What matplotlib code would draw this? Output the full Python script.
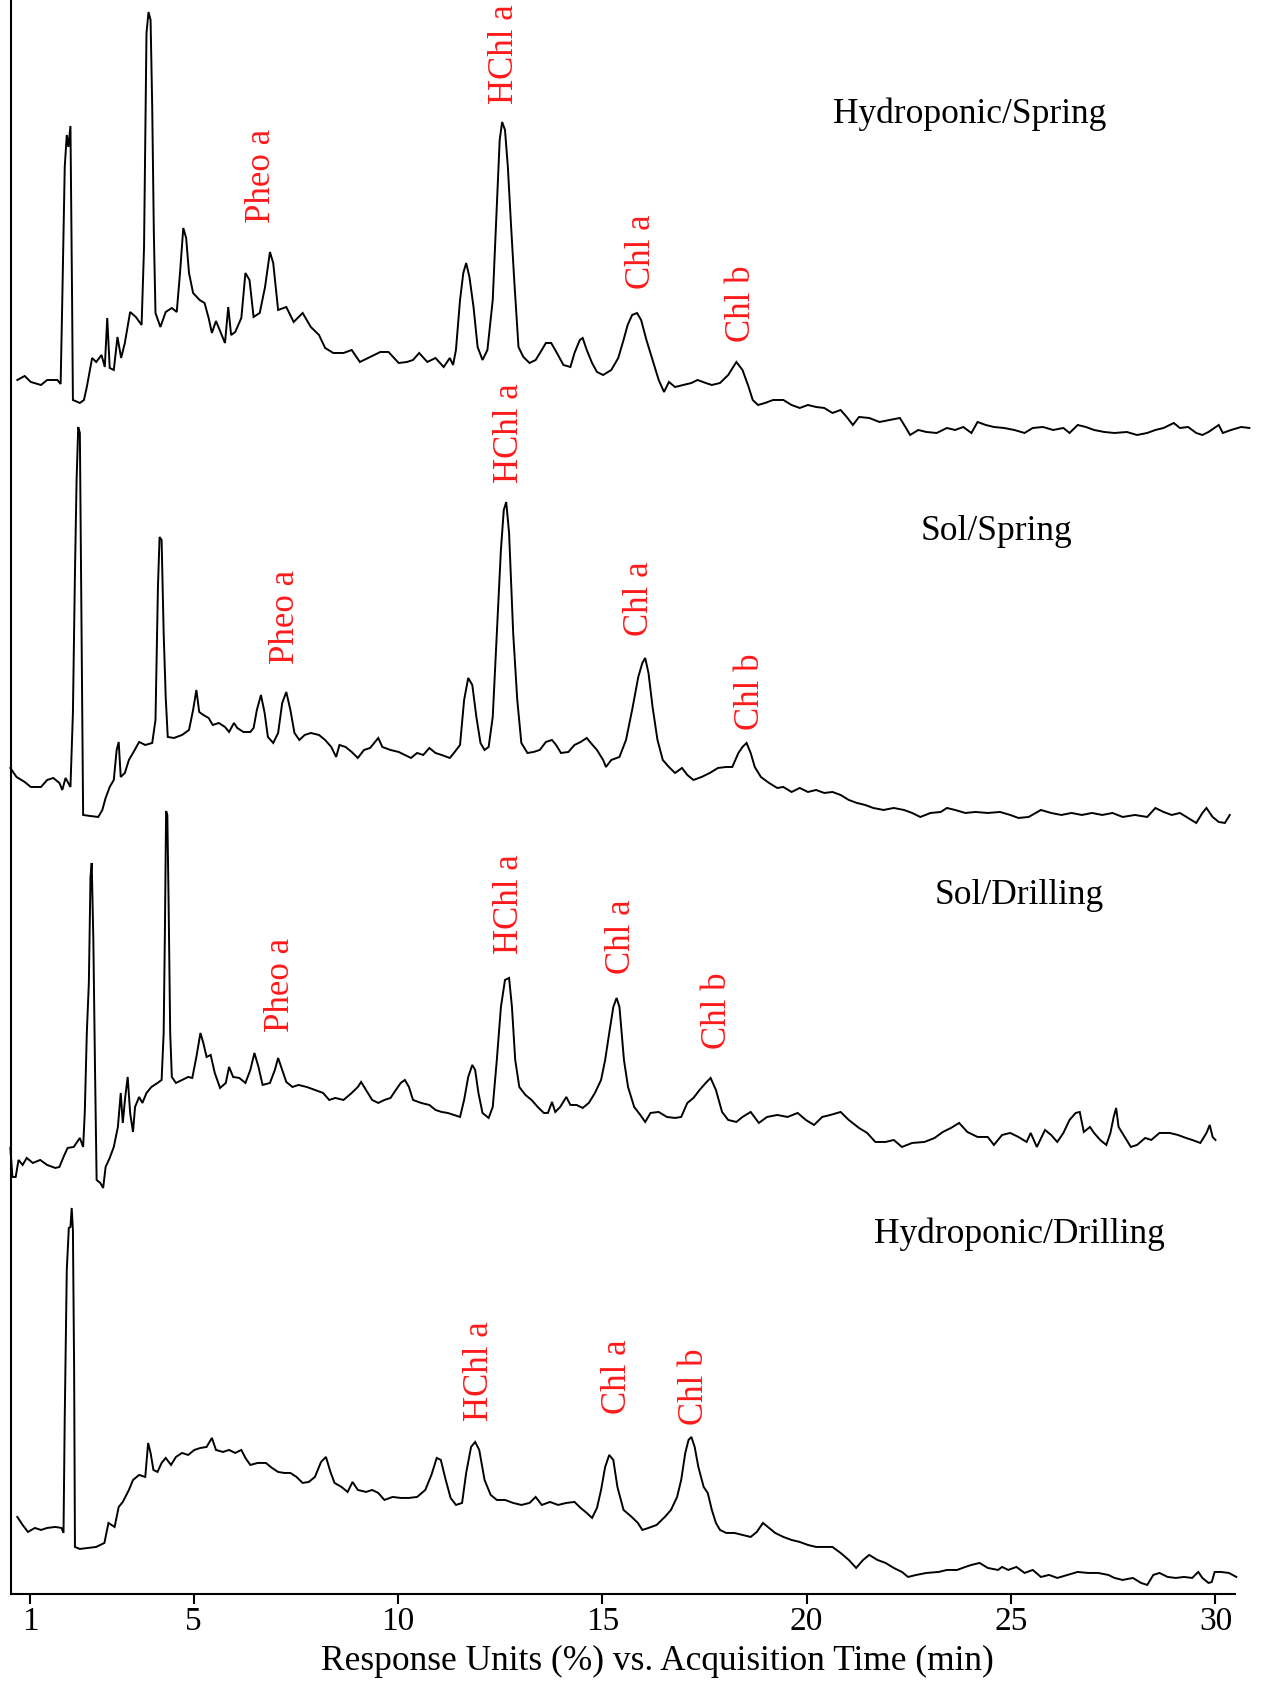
import matplotlib
matplotlib.use("Agg")
import matplotlib.pyplot as plt

# ---------------- data (time in min, stacked response units) ----------------
t_hs = [0.69, 0.87, 1.02, 1.27, 1.42, 1.67, 1.75, 1.79, 1.85, 1.90, 1.94, 1.99, 2.03, 2.05, 2.22, 2.32,
        2.39, 2.52, 2.62, 2.75, 2.83, 2.89, 2.95, 3.05, 3.14, 3.23, 3.32, 3.45, 3.59, 3.73, 3.79, 3.85,
        3.90, 3.95, 3.99, 4.03, 4.07, 4.19, 4.32, 4.47, 4.59, 4.67, 4.75, 4.82, 4.89, 4.99, 5.15, 5.27,
        5.37, 5.45, 5.55, 5.67, 5.77, 5.85, 5.92, 6.02, 6.17, 6.27, 6.37, 6.47, 6.62, 6.75, 6.87, 6.95,
        7.07, 7.27, 7.45, 7.67, 7.87, 8.07, 8.22, 8.42, 8.67, 8.87, 9.07, 9.32, 9.57, 9.77, 10.02, 10.22,
        10.37, 10.52, 10.72, 10.92, 11.12, 11.27, 11.35, 11.42, 11.52, 11.60, 11.67, 11.75, 11.85, 11.95,
        12.07, 12.19, 12.32, 12.42, 12.49, 12.55, 12.62, 12.69, 12.77, 12.85, 12.95, 13.07, 13.22, 13.37,
        13.52, 13.62, 13.75, 13.89, 14.05, 14.22, 14.32, 14.45, 14.52, 14.62, 14.75, 14.87, 15.02, 15.22,
        15.39, 15.52, 15.62, 15.73, 15.85, 15.95, 16.08, 16.23, 16.38, 16.51, 16.63, 16.78, 16.98, 17.18,
        17.33, 17.53, 17.68, 17.88, 18.08, 18.28, 18.43, 18.58, 18.68, 18.81, 18.98, 19.18, 19.43, 19.63,
        19.83, 20.03, 20.23, 20.43, 20.63, 20.83, 20.98, 21.13, 21.28, 21.53, 21.78, 22.03, 22.28, 22.43,
        22.53, 22.73, 22.93, 23.18, 23.43, 23.63, 23.83, 24.03, 24.18, 24.38, 24.58, 24.83, 25.08, 25.33,
        25.53, 25.78, 26.03, 26.28, 26.43, 26.63, 26.83, 27.03, 27.28, 27.53, 27.83, 28.08, 28.33, 28.53,
        28.73, 28.98, 29.13, 29.33, 29.53, 29.68, 29.83, 30.08, 30.18, 30.38, 30.63, 30.83]
y_hs = [121.4, 121.8, 121.2, 120.9, 121.4, 121.4, 121.0, 129.4, 142.7, 145.9, 144.7, 146.8, 129.4, 119.4, 119.1, 119.4,
        120.7, 123.6, 123.2, 123.9, 122.7, 127.6, 122.6, 122.4, 125.7, 123.6, 125.1, 128.2, 127.7, 126.9, 134.7, 156.1,
        158.2, 157.4, 148.7, 136.1, 128.1, 126.7, 128.2, 128.6, 128.2, 132.1, 136.6, 135.6, 132.1, 130.1, 129.4, 129.1,
        127.6, 126.1, 127.3, 126.1, 125.1, 128.7, 125.9, 126.2, 127.6, 132.1, 131.4, 127.7, 128.1, 130.7, 134.2, 133.1,
        128.4, 128.7, 127.2, 128.1, 126.7, 125.9, 124.6, 124.1, 124.1, 124.4, 123.2, 123.7, 124.2, 124.2, 123.1, 123.2,
        123.4, 124.1, 123.2, 123.6, 122.7, 123.6, 122.9, 124.4, 129.4, 132.1, 133.1, 131.7, 128.7, 124.7,
        123.4, 124.4, 129.4, 138.7, 145.4, 147.2, 146.4, 142.7, 136.7, 131.1, 124.7, 123.7, 123.1, 123.4,
        124.4, 125.1, 125.1, 124.1, 122.9, 122.7, 124.1, 125.4, 125.6, 124.4, 123.1, 122.2, 121.9, 122.4,
        123.6, 125.4, 126.9, 127.9, 128.1, 127.4, 125.4, 123.4, 121.4, 120.2, 121.2, 120.7, 120.9, 121.1,
        121.4, 121.1, 120.9, 121.1, 121.9, 123.2, 122.4, 120.7, 119.4, 118.9, 119.1, 119.4, 119.4, 118.9,
        118.6, 118.9, 118.7, 118.6, 118.1, 118.4, 117.7, 116.9, 117.7, 117.6, 117.2, 117.4, 117.6, 116.6,
        115.9, 116.4, 116.2, 116.1, 116.6, 116.4, 116.7, 116.1, 117.2, 116.9, 116.7, 116.6, 116.4, 116.1,
        116.6, 116.7, 116.4, 116.6, 116.1, 116.9, 116.7, 116.4, 116.2, 116.1, 116.2, 115.9, 116.1, 116.4,
        116.6, 117.1, 116.6, 116.7, 116.1, 115.9, 116.2, 116.9, 116.1, 116.4, 116.7, 116.6]

t_ss = [0.52, 0.67, 0.87, 1.02, 1.27, 1.42, 1.57, 1.72, 1.79, 1.87, 1.99, 2.05, 2.10, 2.14, 2.18, 2.22,
        2.26, 2.30, 2.47, 2.67, 2.77, 2.85, 2.95, 3.05, 3.12, 3.17, 3.22, 3.32, 3.42, 3.52, 3.67, 3.82,
        3.99, 4.07, 4.13, 4.17, 4.22, 4.27, 4.32, 4.37, 4.52, 4.72, 4.89, 4.99, 5.07, 5.14, 5.24, 5.37,
        5.47, 5.62, 5.77, 5.87, 5.99, 6.07, 6.22, 6.39, 6.47, 6.55, 6.65, 6.74, 6.82, 6.95, 7.07, 7.17,
        7.27, 7.37, 7.47, 7.59, 7.72, 7.87, 8.07, 8.22, 8.37, 8.49, 8.57, 8.72, 8.87, 9.02, 9.17, 9.32,
        9.42, 9.52, 9.62, 9.82, 10.02, 10.17, 10.32, 10.47, 10.62, 10.77, 10.92, 11.07, 11.27, 11.39,
        11.52, 11.62, 11.72, 11.82, 11.92, 12.02, 12.12, 12.22, 12.32, 12.42, 12.52, 12.59, 12.65, 12.72,
        12.82, 12.92, 13.02, 13.17, 13.32, 13.47, 13.62, 13.77, 13.87, 13.99, 14.17, 14.32, 14.47, 14.62,
        14.72, 14.87, 15.02, 15.09, 15.22, 15.42, 15.58, 15.73, 15.88, 15.98, 16.05, 16.13, 16.23, 16.35,
        16.48, 16.63, 16.78, 16.95, 17.08, 17.23, 17.43, 17.63, 17.83, 18.03, 18.18, 18.33, 18.43, 18.53,
        18.63, 18.73, 18.88, 19.08, 19.28, 19.43, 19.63, 19.83, 20.03, 20.23, 20.43, 20.63, 20.83, 21.03,
        21.23, 21.43, 21.63, 21.88, 22.13, 22.38, 22.58, 22.78, 23.03, 23.28, 23.43, 23.63, 23.88, 24.13,
        24.43, 24.73, 24.98, 25.18, 25.43, 25.73, 25.98, 26.23, 26.48, 26.73, 26.98, 27.23, 27.48, 27.73,
        28.03, 28.33, 28.53, 28.73, 28.93, 29.13, 29.33, 29.53, 29.68, 29.78, 29.93, 30.08, 30.23, 30.35]
y_ss = [82.6, 81.7, 81.2, 80.7, 80.7, 81.4, 81.6, 81.1, 80.4, 81.6, 80.7, 88.1, 102.1, 111.4, 116.7, 116.1,
        96.7, 77.9, 77.8, 77.7, 78.4, 79.6, 80.7, 81.4, 84.4, 85.2, 81.7, 82.1, 83.4, 84.1, 85.2, 84.9,
        85.1, 87.4, 100.7, 105.7, 105.4, 96.1, 89.7, 85.7, 85.6, 85.9, 86.4, 88.4, 90.4, 88.2, 87.9, 87.6,
        86.9, 87.1, 86.7, 86.2, 87.1, 86.6, 86.2, 86.2, 86.6, 88.4, 89.9, 88.1, 85.7, 85.1, 86.1, 89.1,
        90.2, 88.4, 86.1, 85.4, 85.9, 86.1, 85.9, 85.4, 84.7, 83.7, 84.9, 84.7, 84.2, 83.6, 84.4, 84.6,
        85.1, 85.6, 84.7, 84.4, 84.2, 83.9, 83.6, 84.1, 83.9, 84.6, 84.1, 83.9, 83.6, 84.2,
        84.9, 89.4, 91.6, 90.9, 87.7, 85.1, 84.4, 84.7, 87.7, 96.1, 104.4, 108.4, 109.2, 106.1,
        96.1, 89.4, 85.1, 84.1, 84.2, 84.4, 85.2, 85.4, 84.9, 84.1, 84.2, 84.9, 85.2, 85.6,
        85.1, 84.4, 83.4, 82.7, 83.4, 83.7, 85.4, 88.4, 91.7, 93.1, 93.6, 92.1, 88.7, 85.4,
        83.4, 82.7, 82.1, 82.6, 81.9, 81.4, 81.7, 82.1, 82.6, 82.7, 82.7, 84.1, 84.7, 85.1,
        84.1, 82.7, 81.7, 81.1, 80.6, 80.7, 80.2, 80.6, 80.2, 80.4, 80.1, 80.2, 79.9, 79.4,
        79.1, 78.9, 78.6, 78.4, 78.6, 78.4, 78.1, 77.7, 78.1, 78.2, 78.6, 78.4, 78.1, 78.2,
        78.1, 78.2, 77.9, 77.6, 77.7, 78.4, 78.1, 77.9, 78.1, 77.9, 78.1, 77.9, 78.1, 77.7,
        77.9, 77.7, 78.6, 78.2, 77.9, 78.1, 77.6, 77.1, 78.1, 78.6, 77.7, 77.2, 77.1, 77.9]

t_sd = [0.52, 0.57, 0.65, 0.72, 0.82, 0.92, 1.07, 1.25, 1.42, 1.62, 1.72, 1.82, 1.92, 2.07, 2.22, 2.30,
        2.34, 2.39, 2.44, 2.48, 2.51, 2.55, 2.59, 2.63, 2.72, 2.79, 2.85, 2.95, 3.05, 3.15, 3.22, 3.27,
        3.33, 3.39, 3.45, 3.52, 3.57, 3.67, 3.75, 3.85, 3.97, 4.12, 4.22, 4.27, 4.30, 4.33, 4.36, 4.39,
        4.43, 4.47, 4.57, 4.72, 4.87, 4.97, 5.07, 5.17, 5.24, 5.32, 5.42, 5.52, 5.65, 5.79, 5.87, 5.97,
        6.12, 6.27, 6.39, 6.49, 6.59, 6.69, 6.87, 6.99, 7.07, 7.17, 7.27, 7.42, 7.57, 7.77, 7.97, 8.17,
        8.32, 8.47, 8.67, 8.87, 9.02, 9.10, 9.22, 9.37, 9.52, 9.67, 9.82, 9.95, 10.07, 10.17, 10.27, 10.37,
        10.57, 10.77, 10.92, 11.07, 11.22, 11.37, 11.52, 11.62, 11.72, 11.82, 11.89, 11.97, 12.07, 12.22,
        12.32, 12.42, 12.52, 12.62, 12.72, 12.79, 12.87, 12.97, 13.12, 13.27, 13.42, 13.57, 13.67, 13.77,
        13.85, 13.97, 14.12, 14.22, 14.37, 14.52, 14.67, 14.82, 14.97, 15.07, 15.17, 15.27, 15.35, 15.42,
        15.53, 15.63, 15.78, 15.93, 16.05, 16.18, 16.38, 16.58, 16.78, 16.93, 17.08, 17.23, 17.38, 17.53,
        17.65, 17.78, 17.93, 18.08, 18.28, 18.43, 18.63, 18.83, 19.03, 19.28, 19.53, 19.78, 19.98, 20.18,
        20.38, 20.58, 20.83, 21.03, 21.28, 21.48, 21.68, 21.93, 22.13, 22.33, 22.58, 22.88, 23.13, 23.33,
        23.53, 23.73, 23.93, 24.18, 24.43, 24.58, 24.78, 24.98, 25.18, 25.38, 25.48, 25.63, 25.83, 25.98,
        26.13, 26.28, 26.43, 26.58, 26.68, 26.78, 26.93, 27.03, 27.18, 27.33, 27.43, 27.51, 27.57, 27.63,
        27.78, 27.93, 28.08, 28.28, 28.43, 28.63, 28.88, 29.08, 29.28, 29.43, 29.63, 29.78, 29.86, 29.93, 30.00]
y_sd = [44.6, 41.7, 41.7, 43.4, 42.9, 43.6, 43.1, 43.4, 42.9, 42.6, 42.7, 43.7, 44.6, 44.7, 45.6, 44.7,
        48.1, 56.1, 61.1, 71.7, 73.1, 65.4, 52.7, 41.4, 41.1, 40.6, 42.7, 43.6, 44.7, 46.7, 50.1, 47.1,
        49.7, 51.7, 48.1, 46.2, 48.7, 49.7, 49.1, 50.1, 50.7, 51.1, 51.4, 56.1, 66.1, 78.3, 77.9, 69.4,
        56.1, 51.7, 51.1, 51.4, 51.7, 51.6, 53.7, 56.1, 55.1, 53.7, 53.9, 52.1, 50.6, 51.1, 52.7, 51.7,
        51.6, 51.1, 52.4, 54.1, 52.7, 50.9, 51.1, 52.4, 53.6, 52.4, 51.2, 50.7, 50.9, 50.7, 50.4, 50.1,
        49.4, 49.6, 49.4, 50.1, 50.7, 51.2, 50.4, 49.4, 49.1, 49.4, 49.6, 50.4, 51.1, 51.4, 50.7, 49.4,
        49.1, 48.9, 48.4, 48.2, 48.1, 47.9, 47.7, 49.4, 51.7, 52.9, 52.4, 50.1, 48.1, 47.6,
        48.7, 53.4, 58.7, 61.4, 61.6, 58.7, 53.4, 50.7, 49.9, 49.4, 48.7, 48.1, 48.1, 49.2,
        48.2, 48.7, 49.7, 48.9, 48.9, 48.6, 49.1, 50.1, 51.4, 53.4, 56.1, 58.7, 59.6, 58.7,
        53.4, 50.7, 48.7, 47.9, 47.2, 48.1, 48.2, 47.7, 47.6, 47.7, 49.1, 49.6, 50.4, 51.1,
        51.6, 50.4, 48.2, 47.4, 47.2, 47.7, 48.2, 47.1, 47.7, 47.9, 47.7, 48.1, 47.4, 46.9,
        47.7, 47.9, 48.2, 47.4, 46.6, 46.1, 45.2, 45.2, 45.4, 44.7, 45.1, 45.2, 45.6, 46.2,
        46.6, 47.1, 46.2, 45.7, 45.7, 44.9, 45.9, 46.1, 45.7, 45.2, 46.1, 44.7, 46.4, 45.9,
        45.2, 46.1, 47.4, 48.1, 48.2, 46.2, 46.7, 46.1, 45.4, 44.9, 46.1, 47.7, 48.6, 46.7,
        45.7, 44.7, 44.9, 45.6, 45.4, 46.1, 46.1, 45.9, 45.6, 45.4, 45.1, 46.1, 46.9, 45.7, 45.4]

t_hd = [0.69, 0.82, 0.95, 1.12, 1.27, 1.42, 1.62, 1.77, 1.82, 1.85, 1.90, 1.95, 1.99, 2.02, 2.05, 2.08,
        2.10, 2.22, 2.42, 2.62, 2.82, 2.92, 3.07, 3.17, 3.27, 3.42, 3.52, 3.67, 3.82, 3.89, 3.95, 4.02,
        4.12, 4.22, 4.32, 4.45, 4.57, 4.72, 4.87, 5.02, 5.17, 5.32, 5.45, 5.55, 5.72, 5.87, 6.02, 6.17,
        6.27, 6.39, 6.57, 6.77, 6.92, 7.07, 7.22, 7.37, 7.52, 7.67, 7.82, 7.97, 8.12, 8.24, 8.35, 8.45,
        8.62, 8.77, 8.89, 9.02, 9.22, 9.37, 9.52, 9.67, 9.87, 10.07, 10.27, 10.47, 10.67, 10.82, 10.95, 11.05,
        11.17, 11.29, 11.42, 11.57, 11.67, 11.79, 11.89, 11.99, 12.12, 12.27, 12.42, 12.62, 12.82, 13.02,
        13.22, 13.37, 13.52, 13.72, 13.92, 14.12, 14.32, 14.47, 14.62, 14.75, 14.87, 14.97, 15.07, 15.17,
        15.27, 15.37, 15.52, 15.72, 15.87, 15.98, 16.13, 16.33, 16.53, 16.68, 16.83, 16.93, 17.03, 17.11,
        17.18, 17.26, 17.35, 17.48, 17.58, 17.68, 17.78, 17.88, 18.03, 18.23, 18.43, 18.63, 18.78, 18.93,
        19.08, 19.23, 19.43, 19.63, 19.83, 20.03, 20.23, 20.43, 20.63, 20.83, 21.03, 21.21, 21.38, 21.53,
        21.73, 21.93, 22.13, 22.33, 22.48, 22.68, 22.93, 23.23, 23.43, 23.68, 23.88, 24.03, 24.23, 24.43,
        24.68, 24.78, 24.93, 25.13, 25.33, 25.53, 25.73, 25.93, 26.13, 26.38, 26.63, 26.88, 27.13, 27.38,
        27.53, 27.73, 27.98, 28.18, 28.33, 28.48, 28.63, 28.83, 29.03, 29.23, 29.43, 29.58, 29.68, 29.83,
        29.91, 29.98, 30.13, 30.33, 30.51]
y_hd = [7.7, 6.9, 6.2, 6.6, 6.4, 6.6, 6.7, 6.6, 6.1, 17.6, 32.4, 36.6, 36.7, 38.6, 36.4, 22.4,
        4.7, 4.5, 4.6, 4.7, 5.1, 7.1, 6.7, 8.7, 9.2, 10.4, 11.4, 11.9, 11.7, 15.1, 14.1, 12.4,
        12.2, 13.1, 13.6, 12.9, 13.7, 14.1, 13.9, 14.4, 14.6, 14.7, 15.6, 14.4, 14.2, 14.4, 14.1, 14.4,
        13.6, 12.9, 13.1, 13.1, 12.6, 12.2, 12.1, 12.1, 11.7, 11.1, 11.2, 11.7, 13.2, 13.7, 12.2, 11.1,
        10.7, 10.2, 11.2, 10.4, 10.2, 10.4, 10.1, 9.4, 9.7, 9.6, 9.6, 9.7, 10.4, 11.9, 13.6, 13.4,
        11.4, 9.6, 8.9, 9.1, 12.1, 14.7, 15.2, 14.4, 11.4, 9.9, 9.4, 9.4, 9.1, 8.9,
        9.1, 9.7, 8.9, 9.2, 8.9, 9.1, 9.2, 8.6, 8.1, 7.6, 8.6, 10.4, 12.7, 13.9,
        13.4, 10.7, 8.4, 7.7, 7.1, 6.4, 6.6, 6.9, 7.7, 8.4, 9.7, 11.4, 14.1, 15.4,
        15.7, 14.7, 12.7, 10.7, 10.1, 8.4, 7.1, 6.4, 6.1, 6.1, 5.9, 5.7, 6.2, 7.1,
        6.6, 6.1, 5.7, 5.4, 5.2, 4.9, 4.7, 4.7, 4.7, 4.1, 3.4, 2.6, 3.4, 3.9,
        3.4, 3.1, 2.6, 2.2, 1.7, 1.9, 2.1, 2.2, 2.4, 2.4, 2.7, 2.9, 3.1, 2.6,
        2.4, 2.7, 2.4, 2.7, 2.1, 2.4, 1.7, 1.9, 1.6, 1.9, 2.2, 2.1, 2.1, 1.9,
        1.6, 1.4, 1.6, 1.1, 0.9, 1.9, 2.1, 1.7, 1.6, 1.7, 1.6, 2.2, 1.6, 1.1,
        1.2, 2.2, 2.2, 2.1, 1.7]

sample_names = ["Hydroponic/Spring", "Sol/Spring", "Sol/Drilling", "Hydroponic/Drilling"]
sample_label_pos = [(23.98, 148.0), (24.64, 106.2), (25.2, 69.8), (25.2, 36.0)]

peak_names = [["Pheo a", "HChl a", "Chl a", "Chl b"],
              ["Pheo a", "HChl a", "Chl a", "Chl b"],
              ["Pheo a", "HChl a", "Chl a", "Chl b"],
              ["HChl a", "Chl a", "Chl b"]]
peak_label_t = [[6.67, 12.60, 15.95, 18.40],
                [7.24, 12.73, 15.90, 18.63],
                [7.12, 12.73, 15.47, 17.83],
                [11.99, 15.37, 17.25]]
peak_label_y = [[141.8, 154.0, 134.2, 129.0],
                [97.7, 116.1, 99.5, 90.2],
                [60.9, 69.0, 65.7, 58.3],
                [22.3, 21.7, 20.7]]

x_ticks = [1, 5, 10, 15, 20, 25, 30]
x_label = "Response Units (%) vs. Acquisition Time (min)"

# ---------------- plotting ----------------
serif = ["Liberation Serif", "DejaVu Serif"]
fig = plt.figure(figsize=(12.62, 16.86), dpi=100)
ax = fig.add_axes([0.0087, 0.0546, 0.9703, 0.9454])

for tt, yy in [(t_hs, y_hs), (t_ss, y_ss), (t_sd, y_sd), (t_hd, y_hd)]:
    ax.plot(tt, yy, color="black", lw=1.4, clip_on=False, solid_joinstyle="miter")

for name, (tx, ty) in zip(sample_names, sample_label_pos):
    ax.text(tx, ty, name, ha="center", va="center", fontsize=25.5, family=serif, color="black")

for names, ts, ys in zip(peak_names, peak_label_t, peak_label_y):
    for n, tx, ty in zip(names, ts, ys):
        ax.text(tx, ty, n, ha="center", va="center", rotation=90, fontsize=25,
                family=serif, color="#ff1a1a")

ax.set_xlim(0.535, 30.49)
ax.set_ylim(0, 159.4)
ax.set_xticks(x_ticks)
ax.set_xticklabels([str(v) for v in x_ticks], family=serif, fontsize=24)
ax.set_yticks([])
ax.tick_params(axis="x", direction="out", length=7, width=1.5, pad=2)
for s in ["top", "right"]:
    ax.spines[s].set_visible(False)
for s in ["left", "bottom"]:
    ax.spines[s].set_linewidth(1.5)
ax.set_xlabel(x_label, family=serif, fontsize=25.5)
ax.xaxis.set_label_coords(0.528, -0.032)

fig.savefig("out.png", dpi=100, facecolor="white")
